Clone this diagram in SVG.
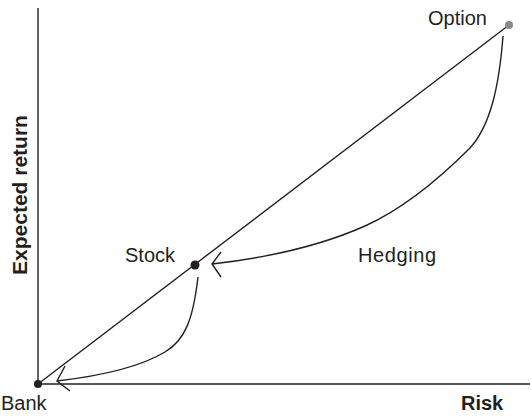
<svg xmlns="http://www.w3.org/2000/svg" width="532" height="416" viewBox="0 0 532 416">
<style>
.ln{fill:none;stroke:#231f20;stroke-width:1.4}
.lb{font-family:"Liberation Sans",Arial,sans-serif;font-size:20px;fill:#231f20}
.bd{font-weight:bold}
</style>
<rect width="532" height="416" fill="#fff"/>
<g id="axes">
<line class="ln" x1="38" y1="8" x2="38" y2="384"/>
<line class="ln" x1="38" y1="384" x2="530" y2="384"/>
</g>
<g id="connectors">
<line class="ln" x1="38" y1="384" x2="509" y2="25"/>
<path class="ln" d="M503,36 C499,88 490,126 470,148 C440,178 405,208 365,226 C320,246 265,258 212,264"/>
<polyline class="ln" points="221,252 212,264 221,277"/>
<path class="ln" d="M198,277 C193,320 185,340 165,352 C140,367 100,376 57,381"/>
<polyline class="ln" points="65,366 57,381 70,391"/>
</g>
<g id="bank"><circle cx="38" cy="384" r="4" fill="#231f20"/><text class="lb" x="1" y="410">Bank</text></g>
<g id="stock"><circle cx="195" cy="265" r="4.5" fill="#231f20"/><text class="lb" x="125" y="262">Stock</text></g>
<g id="option"><circle cx="509" cy="25" r="4" fill="#8a8a8a"/><text class="lb" x="428" y="25">Option</text></g>
<g id="hedging"><text class="lb" x="358" y="262" textLength="78">Hedging</text></g>
<text class="lb bd" x="461" y="410">Risk</text>
<text class="lb bd" transform="translate(27,195) rotate(-90)" text-anchor="middle" style="font-size:21px">Expected return</text>
</svg>
